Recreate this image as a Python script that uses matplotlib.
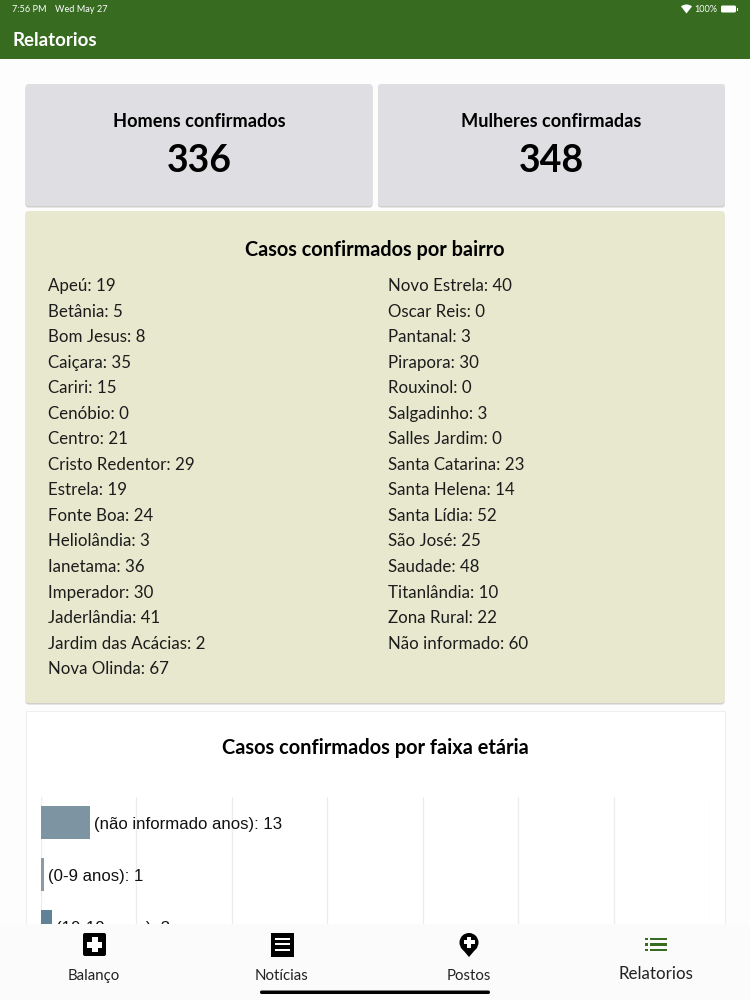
#!/usr/bin/env python3
import matplotlib
matplotlib.use("Agg")
import matplotlib.pyplot as plt
from matplotlib.patches import FancyBboxPatch, Rectangle, Circle, Polygon, Wedge

bairros = ["Apeú", "Betânia", "Bom Jesus", "Caiçara", "Cariri", "Cenóbio", "Centro",
           "Cristo Redentor", "Estrela", "Fonte Boa", "Heliolândia", "Ianetama", "Imperador",
           "Jaderlândia", "Jardim das Acácias", "Nova Olinda", "Novo Estrela", "Oscar Reis",
           "Pantanal", "Pirapora", "Rouxinol", "Salgadinho", "Salles Jardim", "Santa Catarina",
           "Santa Helena", "Santa Lídia", "São José", "Saudade", "Titanlândia", "Zona Rural",
           "Não informado"]
casos = [19, 5, 8, 35, 15, 0, 21, 29, 19, 24, 3, 36, 30, 41, 2, 67,
         40, 0, 3, 30, 0, 3, 0, 23, 14, 52, 25, 48, 10, 22, 60]

faixas = ["(não informado anos)", "(0-9 anos)", "(10-19 anos)"]
faixa_casos = [13, 1, 3]
faixa_cores = ["#7d95a3", "#8a9ba6", "#5f8296"]
grid_ticks = [0, 25, 50, 75, 100, 125, 150, 175]

homens = 336
mulheres = 348
nav_labels = ["Balanço", "Notícias", "Postos", "Relatorios"]

NARROW = ["Lato", "DejaVu Sans"]
GREEN = "#366b20"

fig = plt.figure(figsize=(7.5, 10), dpi=100, facecolor="#fdfdfd")


def px_axes(zorder):
    # full figure axes in screen pixels
    ax = fig.add_axes([0, 0, 1, 1], zorder=zorder)
    ax.set_xlim(0, 750)
    ax.set_ylim(1000, 0)
    ax.axis("off")
    ax.patch.set_alpha(0)
    return ax


def card(ax, x, y, w, h, color):
    ax.add_patch(FancyBboxPatch((x, y + 1.5), w, h, boxstyle="round,pad=0,rounding_size=3",
                                fc="#cfcfcc", ec="none"))
    ax.add_patch(FancyBboxPatch((x, y), w, h, boxstyle="round,pad=0,rounding_size=3",
                                fc=color, ec="none"))


bg = px_axes(1)

# header
bg.add_patch(Rectangle((0, 0), 750, 59, fc=GREEN, ec="none"))
bg.text(12, 9, "7:56 PM", color="white", fontsize=6.6, va="center", family=NARROW)
bg.text(55, 9, "Wed May 27", color="white", fontsize=6.6, va="center", family=NARROW)
bg.text(12, 40, "Relatorios", color="white", fontsize=13.4, va="center", weight="bold", family=NARROW)
bg.text(717, 9, "100%", color="white", fontsize=6.6, ha="right", va="center", family=NARROW)
bg.add_patch(Wedge((686.5, 13.5), 9, 232, 308, fc="white", ec="none"))
bg.add_patch(FancyBboxPatch((721, 5.5), 15, 7, boxstyle="round,pad=0,rounding_size=1.5", fc="white", ec="none"))
bg.add_patch(Rectangle((737, 7.5), 1, 3, fc="white", ec="none"))

# top cards
card(bg, 25.5, 84, 347, 122, "#dfdee2")
card(bg, 378, 84, 347, 122, "#dfdee2")
bg.text(199, 121.5, "Homens confirmados", fontsize=13.1, weight="bold", ha="center", va="center", family=NARROW)
bg.text(551, 121.5, "Mulheres confirmadas", fontsize=13.1, weight="bold", ha="center", va="center", family=NARROW)
bg.text(199, 161, str(homens), fontsize=27, weight="bold", ha="center", va="center", family=NARROW)
bg.text(551, 161, str(mulheres), fontsize=27, weight="bold", ha="center", va="center", family=NARROW)

# bairro list
card(bg, 25.5, 211, 699, 492, "#e8e8cf")
bg.text(375, 250, "Casos confirmados por bairro", fontsize=14.3, weight="bold", ha="center", va="center", family=NARROW)
for i, (nome, n) in enumerate(zip(bairros, casos)):
    col = 0 if i < 16 else 1
    row = i if i < 16 else i - 16
    bg.text(48.5 if col == 0 else 388, 286 + row * 25.55, f"{nome}: {n}",
            fontsize=12.2, color="#1c1c1c", va="center", family=NARROW)

# chart card
bg.add_patch(Rectangle((25.5, 711), 699, 289, fc="white", ec="#efefef", lw=0.8))
bg.text(375, 748, "Casos confirmados por faixa etária", fontsize=14.4, weight="bold",
        ha="center", va="center", family=NARROW)

# bar chart, own scales: 3.825 px per case, 52 px per category
left, right, top, bottom = 40.6, 709.5, 797, 940
ax = fig.add_axes([left / 750, 1 - bottom / 1000, (right - left) / 750, (bottom - top) / 1000], zorder=2)
ax.patch.set_alpha(0)
ax.set_xlim(0, 175)
ax.set_ylim((bottom - 822.5) / 52, (top - 822.5) / 52)
ax.barh(range(len(faixas)), faixa_casos, height=0.635, color=faixa_cores, zorder=2)
for i, (f, n) in enumerate(zip(faixas, faixa_casos)):
    ax.text(n + 1.05, i + 0.04, f"{f}: {n}", fontsize=12.1, color="#111111", va="center",
            family="Liberation Sans", zorder=3)
ax.set_xticks(grid_ticks)
ax.set_yticks([])
ax.grid(axis="x", color="#ececec", lw=0.9, zorder=0)
ax.tick_params(length=0, labelbottom=False)
for s in ax.spines.values():
    s.set_visible(False)

# bottom nav on top of the chart
nav = px_axes(3)
nav.add_patch(Rectangle((0, 924), 750, 76, fc="#fbfbfb", ec="none"))
xs = [94, 281, 469, 656]
for x, label in zip(xs, nav_labels):
    active = label == "Relatorios"
    nav.text(x, 974 if active else 976, label, fontsize=12.2 if active else 10.8, ha="center", va="center",
             color="#222222", family=NARROW)

# plus icon
nav.add_patch(FancyBboxPatch((83, 933), 23, 23, boxstyle="round,pad=0,rounding_size=2", fc="black", ec="none"))
nav.add_patch(Rectangle((91.5, 937), 6, 15, fc="white", ec="none"))
nav.add_patch(Rectangle((87, 941.5), 15, 6, fc="white", ec="none"))
# news icon
nav.add_patch(Rectangle((270.5, 933), 23, 24, fc="black", ec="none"))
for y in [938.5, 944, 949.5]:
    nav.add_patch(Rectangle((274.5, y - 1), 15, 2.4, fc="white", ec="none"))
# pin icon
nav.add_patch(Circle((469, 942.5), 9.5, fc="black", ec="none"))
nav.add_patch(Polygon([(460.5, 947), (477.5, 947), (469, 957)], fc="black", ec="none"))
nav.add_patch(Rectangle((467.2, 936.5), 3.6, 11, fc="white", ec="none"))
nav.add_patch(Rectangle((463.5, 940.2), 11, 3.6, fc="white", ec="none"))
# list icon
for y in [939, 944.5, 950]:
    nav.add_patch(Rectangle((645, y - 1.2), 3, 2.6, fc=GREEN, ec="none"))
    nav.add_patch(Rectangle((650, y - 1.2), 17, 2.6, fc=GREEN, ec="none"))

# home bar
nav.add_patch(FancyBboxPatch((260, 990.5), 230, 3.5, boxstyle="round,pad=0,rounding_size=1.7", fc="black", ec="none"))

fig.savefig("out.png", dpi=100, facecolor=fig.get_facecolor())
